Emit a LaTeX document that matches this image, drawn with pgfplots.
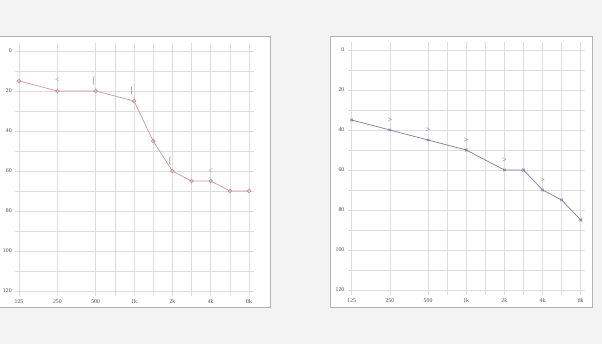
\documentclass[border=0pt]{standalone}
\usepackage{fontspec}
\setmainfont{Liberation Serif}
\usepackage{pgfplots}
\pgfplotsset{compat=1.18}
\definecolor{bg}{HTML}{F3F3F3}
\definecolor{gridc}{HTML}{DDDDDD}
\definecolor{leftc}{HTML}{C9A0A0}
\definecolor{leftm}{HTML}{D0909C}
\definecolor{rightc}{HTML}{8282A6}
\pgfplotsset{audio/.style={
  scale only axis, height=253pt,
  xmin=-0.1, xmax=6.12, ymin=-4, ymax=122.5, y dir=reverse,
  axis line style={draw=none},
  xtick={0,...,6}, xticklabels={125,250,500,1k,2k,4k,8k},
  extra x ticks={2.5,3.5,4.5,5.5}, extra x tick labels={},
  extra x tick style={grid=major},
  ytick={0,20,...,120}, minor ytick={10,30,...,110},
  grid=both,
  major grid style={gridc, line width=0.5pt},
  minor grid style={gridc, line width=0.5pt},
  major tick length=0, minor tick length=0,
  tick label style={font=\fontsize{5.8}{6}\selectfont, text=black!70},
  /pgf/number format/assume math mode=true,
  clip=false,
}}
\begin{document}
\begin{tikzpicture}[x=1pt,y=1pt]
\fill[bg] (0,0) rectangle (602,344);
\useasboundingbox (0,0) rectangle (602,344);
\filldraw[fill=white, draw=black!30, line width=0.8pt] (-1,37) rectangle (270,308);
\filldraw[fill=white, draw=black!30, line width=0.8pt] (330,37) rectangle (592,308);

\begin{axis}[audio, width=238.4pt, at={(15.2pt,48pt)}, anchor=south west]
\addplot[leftc, line width=0.75pt, mark=o, mark size=1.8pt, mark options={solid, draw=leftm}] coordinates {
(0,15) (1,20) (2,20) (3,25) (3.5,45) (4,60) (4.5,65) (5,65) (5.5,70) (6,70)};
\addplot[draw=none, mark=none, nodes near coords={<}, every node near coord/.append style={anchor=center, inner sep=0pt, font=\fontsize{8}{8}\selectfont, text=leftc!80!black}] coordinates {(1,14.5) (5,60)};
\addplot[draw=none, mark=none, nodes near coords={\lbrack}, every node near coord/.append style={anchor=center, inner sep=0pt, font=\fontsize{9}{9}\selectfont, text=leftc!80!black}] coordinates {(1.95,15) (2.95,20) (3.95,55)};
\end{axis}

\begin{axis}[audio, width=237.4pt, at={(347.9pt,49pt)}, anchor=south west]
\addplot[rightc, line width=0.75pt, mark=x, mark size=1.8pt, mark options={solid}] coordinates {
(0,35) (1,40) (2,45) (3,50) (4,60) (4.5,60) (5,70) (5.5,75) (6,85)};
\addplot[draw=none, mark=none, nodes near coords={>}, every node near coord/.append style={anchor=center, inner sep=0pt, font=\fontsize{8}{8}\selectfont, text=rightc!80!black}] coordinates {(1,35) (2,40) (3,45) (4,55) (5,65)};
\end{axis}
\end{tikzpicture}
\end{document}
